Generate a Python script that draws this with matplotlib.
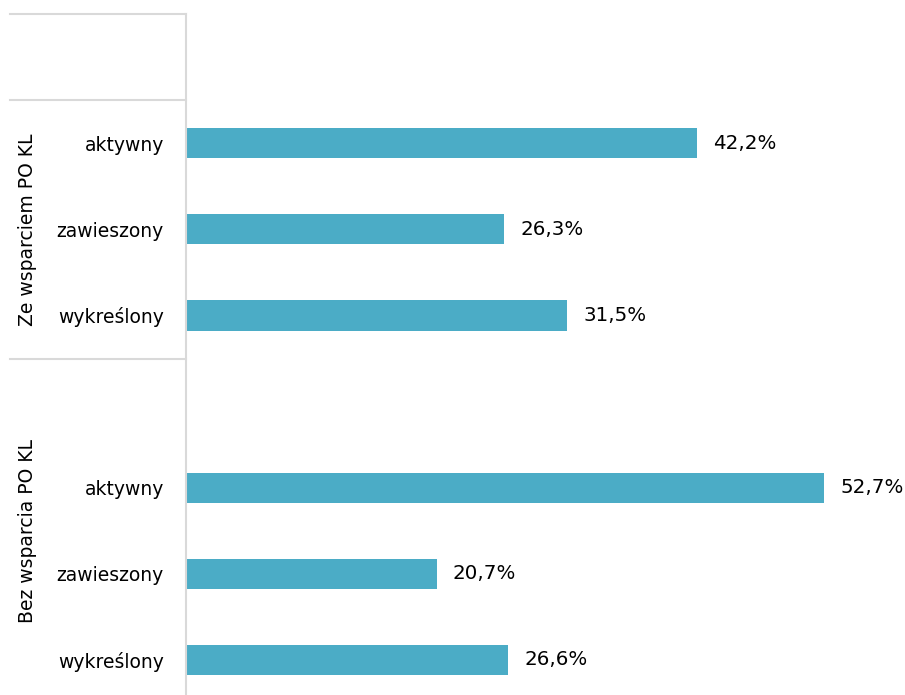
import matplotlib.pyplot as plt
import matplotlib.transforms as mtransforms

# Dane z wykresu (odsetek w %)
grupy = ['Ze wsparciem PO KL', 'Bez wsparcia PO KL']
statusy = ['aktywny', 'zawieszony', 'wykreślony']
wartosci_ze = [42.2, 26.3, 31.5]
wartosci_bez = [52.7, 20.7, 26.6]

kolor = '#4BACC6'
szary = '#D9D9D9'

W, H = 905, 695
fig = plt.figure(figsize=(W / 100, H / 100), dpi=100)
ax = fig.add_axes([186 / W, -8 / H, (W - 186) / W, 689 / H])

# Każda grupa: pusta pozycja + 3 statusy
wartosci = [wartosci_ze, wartosci_bez]
pozycje, etykiety, wszystkie = [], [], []
for g, vals in enumerate(wartosci):
    start = g * 4 + 1
    for i, (s, v) in enumerate(zip(statusy, vals)):
        pozycje.append(start + i)
        etykiety.append(s)
        wszystkie.append(v)

ax.barh(pozycje, wszystkie, height=0.35, color=kolor)
for p, v in zip(pozycje, wszystkie):
    ax.annotate(f'{v:.1f}%'.replace('.', ','), (v, p), xytext=(11.5, 0),
                textcoords='offset points', va='center', ha='left',
                fontsize=14.3, color='black')

ax.set_ylim(7.5, -0.5)
ax.set_xlim(0, (W - 186) / 12.11)
ax.set_yticks(pozycje)
ax.set_yticklabels(etykiety, fontsize=13.5)
ax.tick_params(axis='y', length=0, pad=16)
ax.set_xticks([])
for s in ['top', 'right', 'bottom']:
    ax.spines[s].set_visible(False)
ax.spines['left'].set_color(szary)
ax.spines['left'].set_linewidth(1.5)

# Linie oddzielające grupy i etykiety grup
trans = mtransforms.blended_transform_factory(ax.transAxes, ax.transData)
x0 = (10 - 186) / (W - 186)
for y in [-0.5, 0.5, 3.5]:
    ax.plot([x0, 0], [y, y], color=szary, lw=1.5, transform=trans, clip_on=False)

x_grupa = (28 - 186) / (W - 186)
for g, nazwa in enumerate(grupy):
    yc = 2 if g == 0 else 5.5
    ax.text(x_grupa, yc, nazwa, rotation=90, va='center', ha='center',
            fontsize=13.5, transform=trans)

plt.savefig('out.png', dpi=100)
